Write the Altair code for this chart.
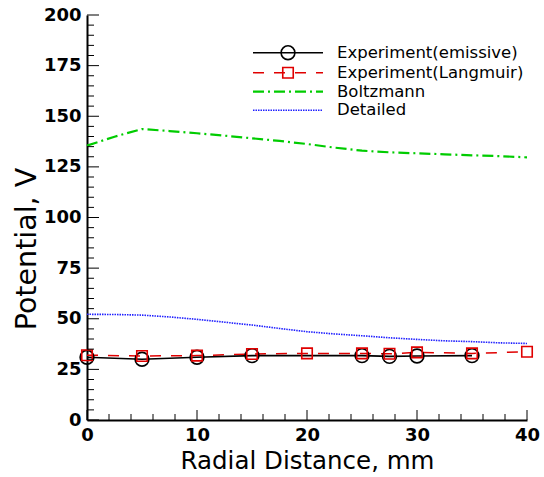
import altair as alt
import pandas as pd

# ---- data ----
series_names = ["Experiment(emissive)", "Experiment(Langmuir)", "Boltzmann", "Detailed"]

x_emissive = [0, 5, 10, 15, 25, 27.5, 30, 35]
v_emissive = [31.0, 30.0, 31.0, 31.8, 31.8, 31.4, 31.6, 31.8]

x_langmuir = [0, 5, 10, 15, 20, 25, 27.5, 30, 35, 40]
v_langmuir = [32.0, 31.6, 31.8, 32.6, 32.9, 32.9, 32.7, 33.4, 32.9, 33.7]

x_model = [0, 2.5, 5, 7.5, 10, 12.5, 15, 17.5, 20, 22.5, 25, 27.5, 30, 32.5, 35, 37.5, 40]
v_boltzmann = [135.5, 139.9, 143.7, 142.7, 141.6, 140.4, 139.1, 137.8, 136.3, 134.5,
               133.0, 132.2, 131.7, 131.2, 130.7, 130.3, 129.7]
v_detailed = [52.2, 52.1, 51.8, 50.9, 49.7, 48.3, 46.9, 45.2, 43.6, 42.5,
              41.6, 40.6, 39.8, 39.1, 38.7, 38.1, 37.8]

x_major_ticks = [0, 10, 20, 30, 40]
x_minor_ticks = [v for v in range(0, 41, 2) if v % 10 != 0]
y_major_ticks = list(range(0, 201, 25))
y_minor_ticks = [v for v in range(0, 201, 5) if v % 25 != 0]

W, H = 440, 405
FONT = "DejaVu Sans"

df_em = pd.DataFrame({"x": x_emissive, "v": v_emissive})
df_lg = pd.DataFrame({"x": x_langmuir, "v": v_langmuir})
df_bz = pd.DataFrame({"x": x_model, "v": v_boltzmann})
df_dt = pd.DataFrame({"x": x_model, "v": v_detailed})

xs = alt.Scale(domain=[0, 40], nice=False, zero=False)
ys = alt.Scale(domain=[0, 200], nice=False)

x_axis = alt.Axis(values=x_major_ticks, format="d", title="Radial Distance, mm",
                  ticks=False, tickSize=0, grid=False, domainColor="black", domainWidth=2,
                  labelFont=FONT, labelFontSize=18, labelFontWeight="bold", labelColor="black",
                  labelPadding=6, labelFlush=False,
                  titleFont=FONT, titleFontSize=24.5, titleFontWeight="normal", titleColor="black",
                  titlePadding=5)
y_axis = alt.Axis(values=y_major_ticks, format="d", title="Potential, V",
                  ticks=False, tickSize=0, grid=False, domainColor="black", domainWidth=2,
                  labelFont=FONT, labelFontSize=18, labelFontWeight="bold", labelColor="black",
                  labelPadding=6, labelFlush=False,
                  titleFont=FONT, titleFontSize=28.5, titleFontWeight="normal", titleColor="black",
                  titleAngle=-90, titleX=-51.5, titleY=233.5, titleBaseline="alphabetic")

X = lambda: alt.X("x:Q", scale=xs, axis=x_axis)
Y = lambda: alt.Y("v:Q", scale=ys, axis=y_axis)

bz_line = alt.Chart(df_bz).mark_line(color="#00cc00", strokeWidth=2.2,
                                     strokeDash=[11, 4, 2, 4]).encode(x=X(), y=Y())
dt_line = alt.Chart(df_dt).mark_line(color="#2020ff", strokeWidth=1.6,
                                     strokeDash=[1.5, 1]).encode(x=X(), y=Y())
lg_line = alt.Chart(df_lg).mark_line(color="#e00000", strokeWidth=1.5,
                                     strokeDash=[11, 10]).encode(x=X(), y=Y())
em_line = alt.Chart(df_em).mark_line(color="black", strokeWidth=1.6).encode(x=X(), y=Y())
em_pts = alt.Chart(df_em).mark_point(shape="circle", size=190, filled=False, color="black",
                                     strokeWidth=1.6, opacity=1).encode(x=X(), y=Y())
lg_pts = alt.Chart(df_lg).mark_point(shape="square", size=110, filled=False, color="#e00000",
                                     strokeWidth=1.6, opacity=1).encode(x=X(), y=Y())

# inward ticks
xmaj = alt.Chart(pd.DataFrame({"x": x_major_ticks})).mark_rule(color="black", strokeWidth=1).encode(
    x=X(), y=alt.value(H), y2=alt.value(H - 10))
xmin = alt.Chart(pd.DataFrame({"x": x_minor_ticks})).mark_rule(color="black", strokeWidth=1).encode(
    x=X(), y=alt.value(H), y2=alt.value(H - 6))
ymaj = alt.Chart(pd.DataFrame({"v": y_major_ticks})).mark_rule(color="black", strokeWidth=1).encode(
    y=Y(), x=alt.value(0), x2=alt.value(12))
ymin = alt.Chart(pd.DataFrame({"v": y_minor_ticks})).mark_rule(color="black", strokeWidth=1).encode(
    y=Y(), x=alt.value(0), x2=alt.value(7))

# manual legend
LX0, LX1, LXS, LXT = 166, 236, 201, 250
rows = [37.7, 57.7, 76.7, 95.3]
styles = [
    dict(color="black", strokeWidth=1.6),
    dict(color="#e00000", strokeWidth=1.5, strokeDash=[11, 10]),
    dict(color="#00cc00", strokeWidth=2.2, strokeDash=[11, 4, 2, 4]),
    dict(color="#2020ff", strokeWidth=1.6, strokeDash=[1.5, 1]),
]
leg_layers = []
for i, name in enumerate(series_names):
    d = pd.DataFrame({"label": [name]})
    leg_layers.append(alt.Chart(d).mark_rule(**styles[i]).encode(
        x=alt.value(LX0), x2=alt.value(LX1), y=alt.value(rows[i])))
    leg_layers.append(alt.Chart(d).mark_text(align="left", baseline="middle", font=FONT,
                                             fontSize=16.5, color="black").encode(
        x=alt.value(LXT), y=alt.value(rows[i]), text="label:N"))
leg_layers.append(alt.Chart(pd.DataFrame({"label": [series_names[0]]})).mark_point(
    shape="circle", size=190, filled=False, color="black", strokeWidth=1.6, opacity=1).encode(
    x=alt.value(LXS), y=alt.value(rows[0])))
leg_layers.append(alt.Chart(pd.DataFrame({"label": [series_names[1]]})).mark_point(
    shape="square", size=110, filled=False, color="#e00000", strokeWidth=1.6, opacity=1).encode(
    x=alt.value(LXS), y=alt.value(rows[1])))

chart = alt.layer(
    bz_line, dt_line, lg_line, em_line, em_pts, lg_pts,
    xmaj, xmin, ymaj, ymin,
    *leg_layers
).properties(
    width=W, height=H,
    autosize=alt.AutoSizeParams(type="none"),
    padding={"left": 87, "top": 15, "right": 17, "bottom": 57},
    background="white",
).configure_view(stroke=None)

chart.save("out.html", embed_options={"renderer": "svg", "actions": False})
